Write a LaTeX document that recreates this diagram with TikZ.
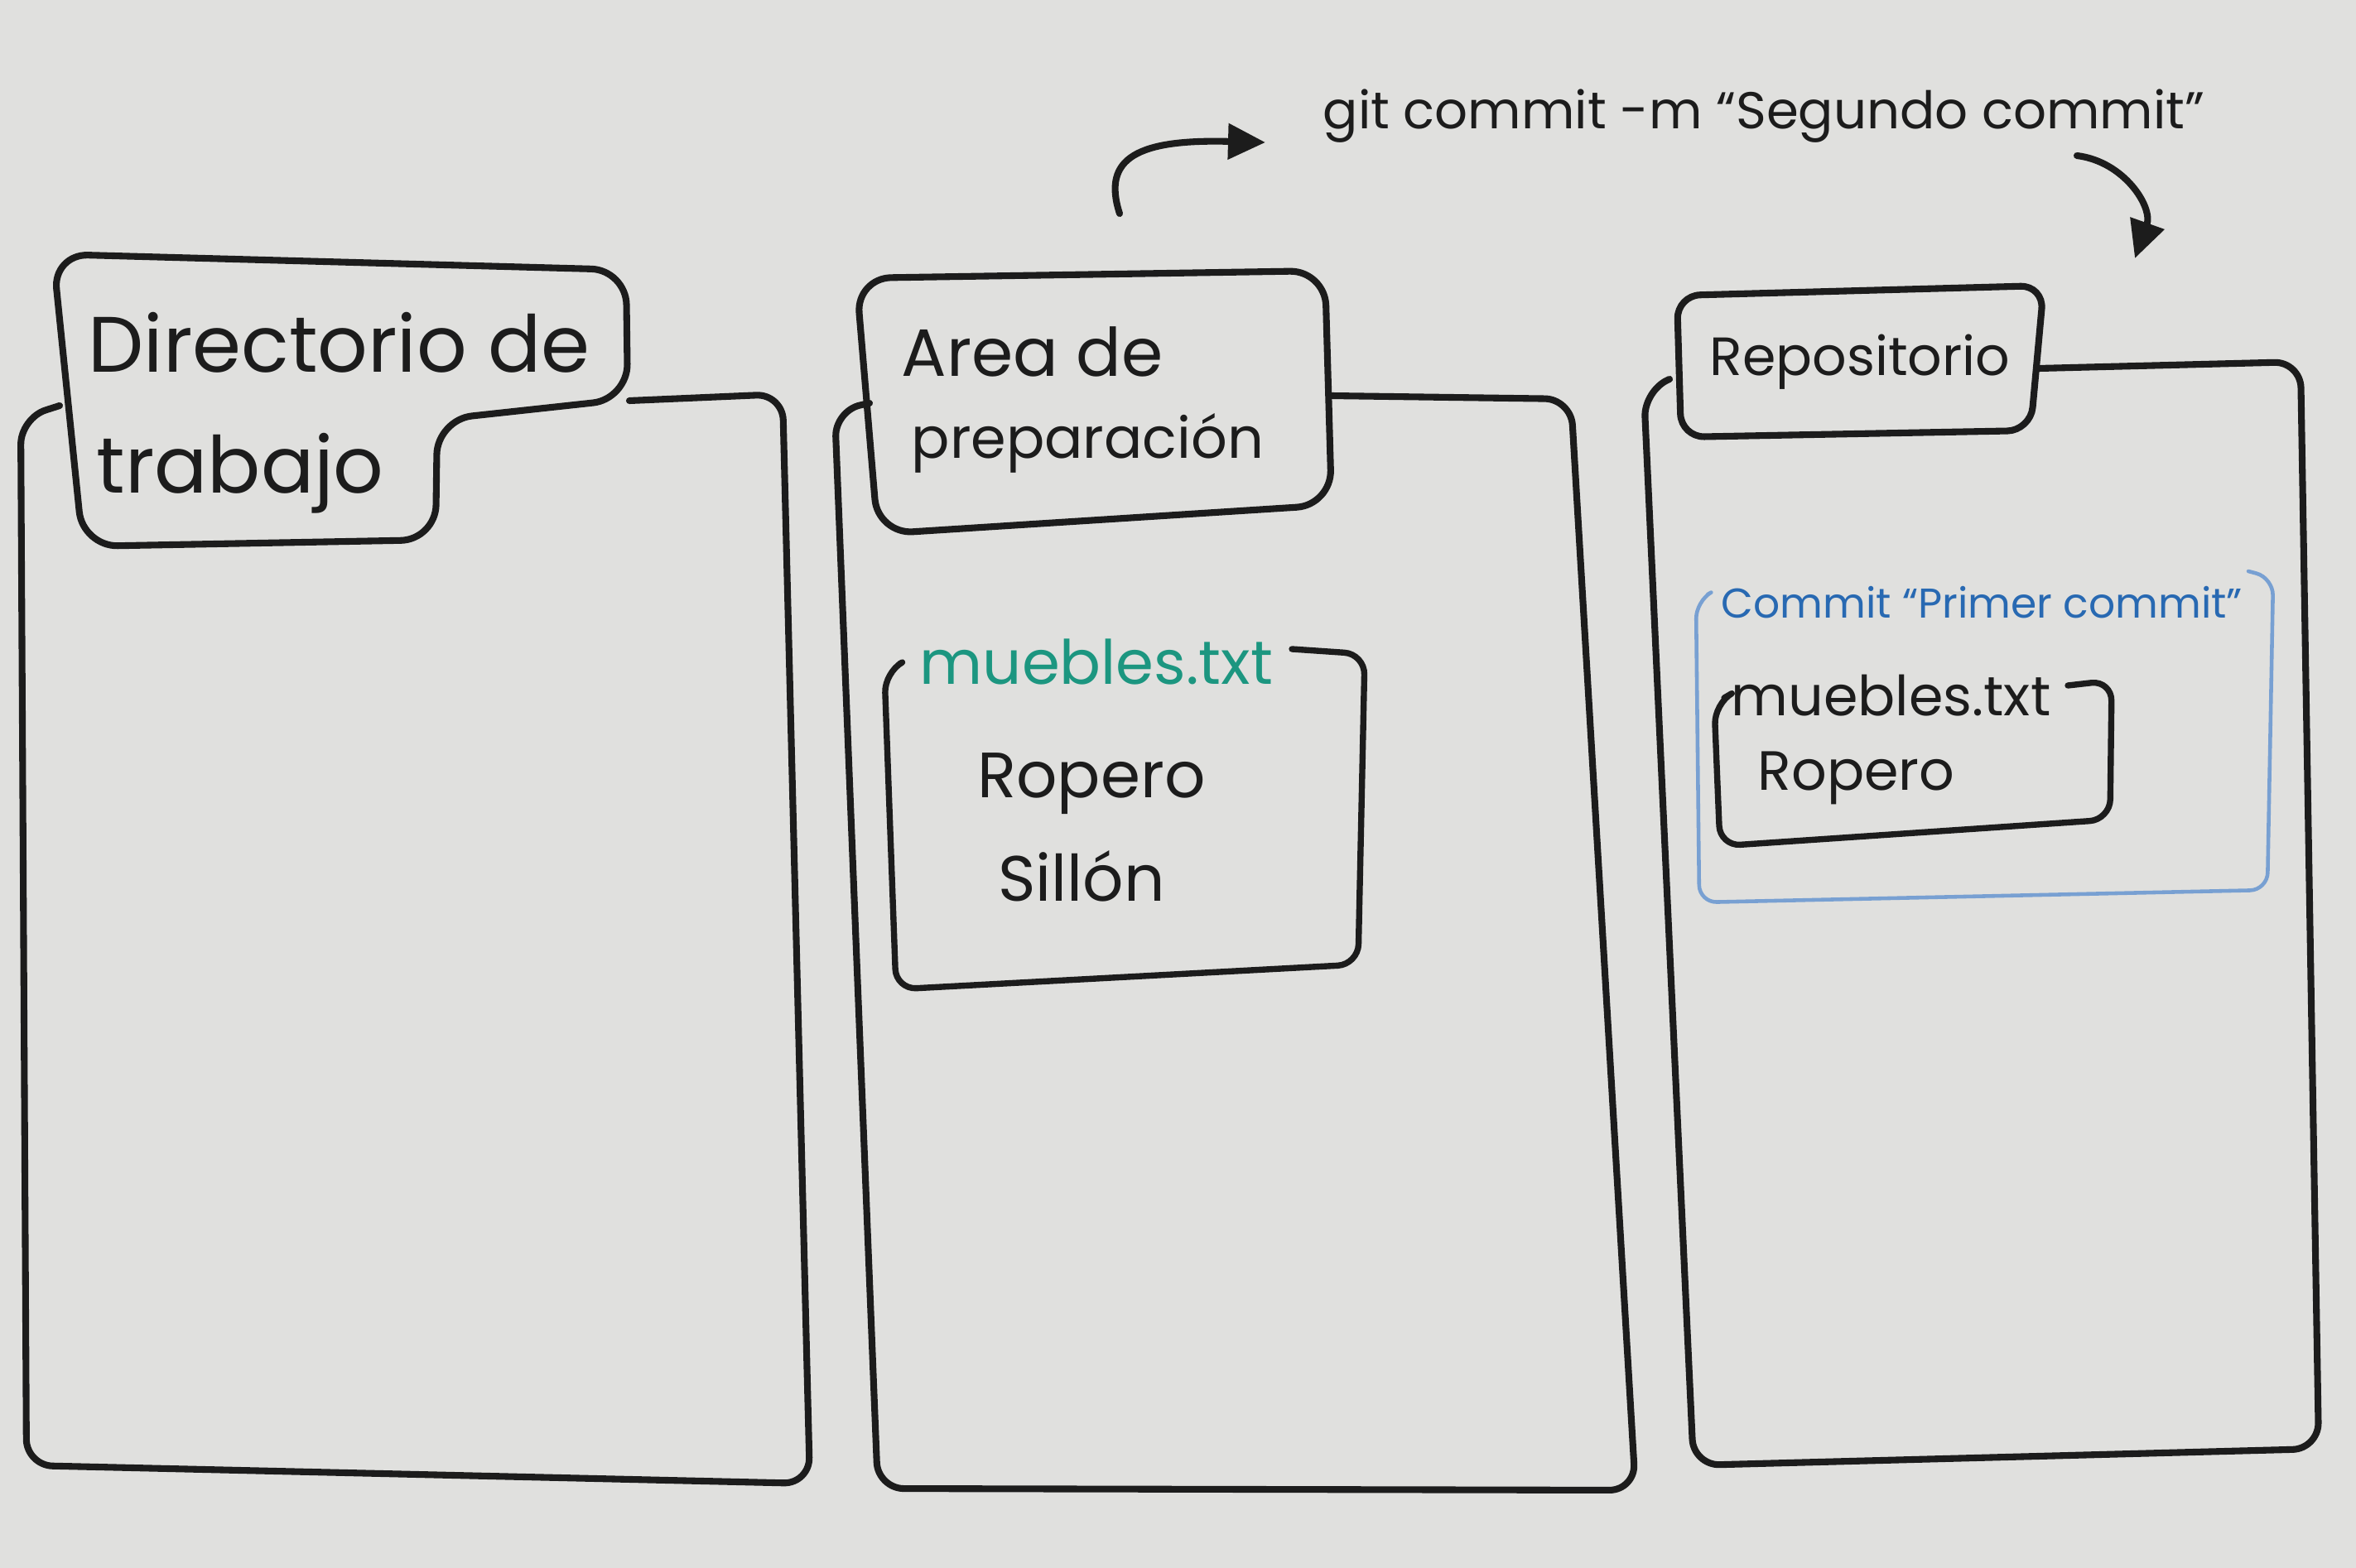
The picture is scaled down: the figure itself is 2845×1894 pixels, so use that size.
\documentclass[tikz,border=0pt]{standalone}
\usepackage{fontspec}
\setmainfont{Poppins}
\usetikzlibrary{arrows.meta}
\definecolor{boardc}{RGB}{224,224,222}
\definecolor{inkc}{RGB}{28,28,28}
\definecolor{tealink}{RGB}{28,150,128}
\definecolor{blueink}{RGB}{40,105,178}
\definecolor{blueline}{RGB}{120,160,210}
\begin{document}
\begin{tikzpicture}[x=0.01cm,y=-0.01cm,
  inkline/.style={draw=inkc,line width=2.3pt,line cap=round,line join=round,rounded corners=9pt},
  blueframe/.style={draw=blueline,line width=1.3pt,line cap=round,line join=round,rounded corners=6pt},
  filebox/.style={draw=inkc,line width=2.1pt,line cap=round,line join=round,rounded corners=7pt},
  label/.style={inner sep=0pt,text=inkc},
  arr/.style={draw=inkc,line width=2.3pt,line cap=round,-{Triangle[length=0.45cm,width=0.42cm]}}]
\fill[boardc] (0,0) rectangle (2845,1894);
\useasboundingbox (0,0) rectangle (2845,1894);

% ---------- Directorio de trabajo ----------
\draw[inkline] (760,484) -- (945,476) -- (978,1792) -- (32,1770) -- (25,505) -- (72,490);
\draw[inkline,rounded corners=12pt] (64,307) -- (756,326) -- (758,482) -- (528,507) -- (526,652) -- (100,660) -- cycle;
\node[label,anchor=west,font=\fontsize{27}{30}\selectfont] (dir1) at (106,414) {Directorio de};
\node[label,anchor=west,font=\fontsize{27}{30}\selectfont] (dir2) at (116,572) {trabajo};

% ---------- Area de preparación ----------
\draw[inkline] (1608,478) -- (1897,482) -- (1975,1800) -- (1060,1798) -- (1008,496) -- (1050,487);
\draw[inkline,rounded corners=12pt] (1034,336) -- (1600,327) -- (1608,610) -- (1060,645) -- cycle;
\node[label,anchor=west,font=\fontsize{23}{28}\selectfont] (area1) at (1088,425) {Area de};
\node[label,anchor=west,font=\fontsize{19.5}{24}\selectfont] (area2) at (1100,535) {preparación};

% file box
\draw[filebox] (1560,784) -- (1648,790) -- (1640,1165) -- (1082,1195) -- (1068,812) -- (1086,802);
\node[label,anchor=west,text=tealink,font=\fontsize{21}{26}\selectfont] (mueb1) at (1110,800) {muebles.txt};
\node[label,font=\fontsize{22}{26}\selectfont] (rop1) at (1318,947) {Ropero};
\node[label,font=\fontsize{22}{26}\selectfont] (sil1) at (1306,1058) {Sillón};

% ---------- Repositorio ----------
\draw[inkline] (2462,445) -- (2778,437) -- (2800,1750) -- (2045,1770) -- (1985,472) -- (2016,458);
\draw[inkline,rounded corners=8pt] (2025,357) -- (2468,345) -- (2452,520) -- (2030,528) -- cycle;
\node[label,font=\fontsize{18.5}{22}\selectfont] (repo) at (2246,437) {Repositorio};

% commit frame
\draw[blueframe] (2715,690) -- (2745,698) -- (2738,1075) -- (2052,1090) -- (2048,726) -- (2062,718);
\node[label,anchor=west,text=blueink,font=\fontsize{14.3}{18}\selectfont] (commit1) at (2078,728) {Commit “Primer commit”};

% inner file box
\draw[filebox] (2497,828) -- (2550,822) -- (2548,990) -- (2077,1022) -- (2070,850) -- (2082,843);
\node[label,anchor=west,font=\fontsize{19}{22}\selectfont] (mueb2) at (2090,840) {muebles.txt};
\node[label,anchor=west,font=\fontsize{19}{22}\selectfont] (rop2) at (2122,940) {Ropero};

% ---------- git command and arrows ----------
\node[label,anchor=west,font=\fontsize{17.8}{22}\selectfont] (git) at (1597,140) {git commit -m “Segundo commit”};
\coordinate (a1) at (1352,258);
\coordinate (a1e) at (1528,172);
\coordinate (a2) at (2508,188);
\coordinate (a2e) at (2578,312);
\draw[arr] (a1) .. controls (1330,190) and (1375,168) .. (a1e);
\draw[arr] (a2) .. controls (2565,195) and (2600,250) .. (a2e);
\end{tikzpicture}
\end{document}
